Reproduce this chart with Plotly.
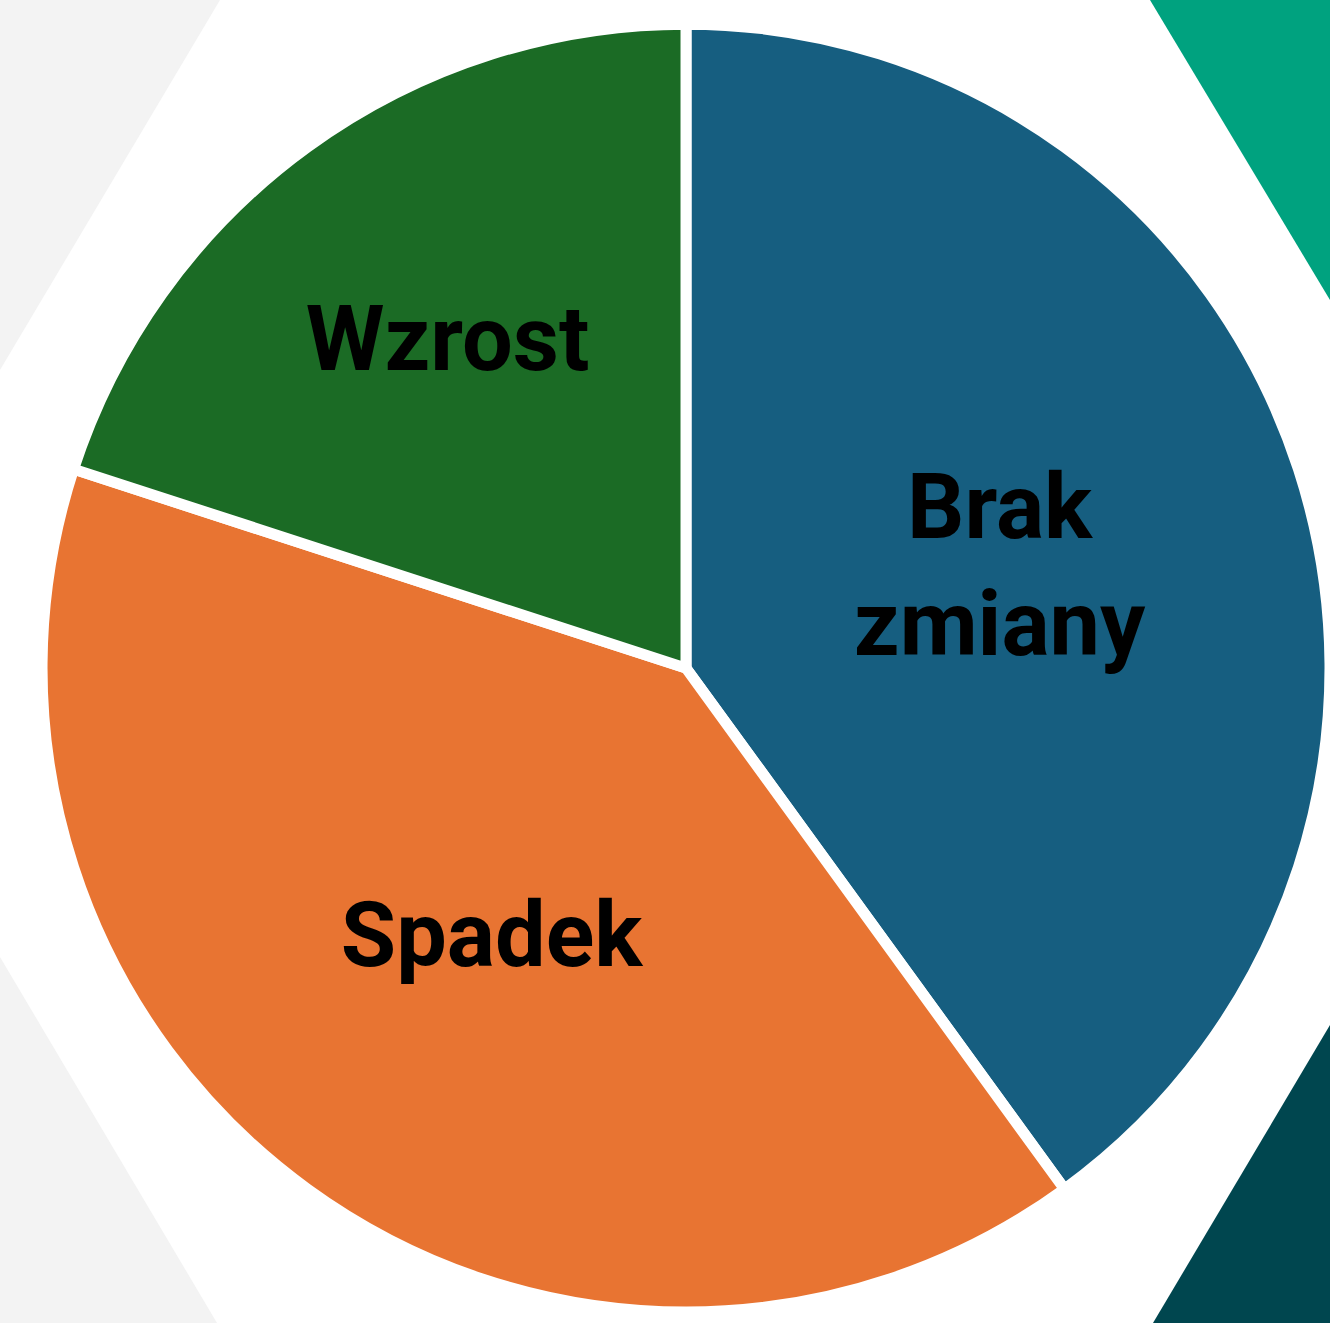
import plotly.graph_objects as go

# Data
categories = ["Brak<br>zmiany", "Spadek", "Wzrost"]
values = [40, 40, 20]
colors = ["#165e80", "#e87432", "#1b6b25"]

W, H = 1330, 1323

def px_path(points):
    # convert pixel coords (top-left origin) to paper coords
    pts = [(x / W, 1 - y / H) for x, y in points]
    return "M " + " L ".join(f"{x:.5f},{y:.5f}" for x, y in pts) + " Z"

bg_shapes = [
    ([(0, 0), (220, 0), (0, 370)], "#f3f3f3"),
    ([(0, 957), (0, H), (217, H)], "#f3f3f3"),
    ([(1150, 0), (W, 0), (W, 300)], "#00a27f"),
    ([(W, 1025), (W, H), (1153, H)], "#00464f"),
]

fig = go.Figure(
    go.Pie(
        labels=categories,
        values=values,
        sort=False,
        direction="clockwise",
        rotation=0,
        marker=dict(colors=colors, line=dict(color="white", width=11)),
        textinfo="label",
        textposition="inside",
        insidetextorientation="horizontal",
        textfont=dict(family="Roboto", size=90, color="black", weight="bold"),
        hoverinfo="label+percent",
        showlegend=False,
        domain=dict(x=[0.0316, 1.0], y=[0.0, 0.99]),
    )
)

fig.update_layout(
    width=W,
    height=H,
    margin=dict(l=0, r=0, t=0, b=0),
    paper_bgcolor="white",
    plot_bgcolor="white",
    shapes=[
        dict(type="path", path=px_path(p), xref="paper", yref="paper",
             fillcolor=c, line=dict(width=0), layer="below")
        for p, c in bg_shapes
    ],
)

fig.write_html(
    "out.html",
    config={"displayModeBar": False},
    post_script="document.body.style.margin='0';document.body.style.overflow='hidden';",
)
